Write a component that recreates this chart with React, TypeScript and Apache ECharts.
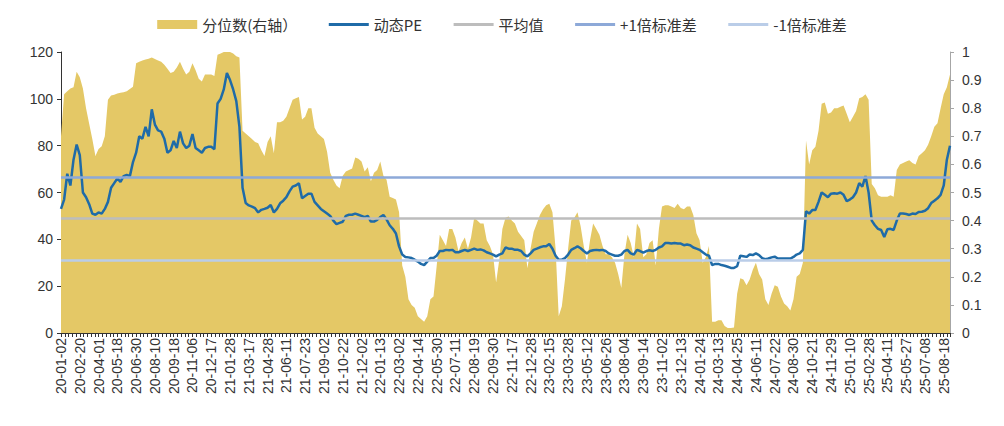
import React, { useEffect, useRef } from "react";
import * as echarts from "echarts";

// Tick labels on the date axis (one every 30 trading days)
const tickLabels = [
  "20-01-02", "20-02-20", "20-04-01", "20-05-18", "20-06-30", "20-08-10", "20-09-18", "20-11-06",
  "20-12-17", "21-01-28", "21-03-17", "21-04-28", "21-06-11", "21-07-23", "21-09-02", "21-10-22",
  "21-12-02", "22-01-13", "22-03-02", "22-04-14", "22-05-30", "22-07-11", "22-08-19", "22-09-30",
  "22-11-17", "22-12-28", "23-02-15", "23-03-28", "23-05-12", "23-06-26", "23-08-04", "23-09-14",
  "23-11-02", "23-12-13", "24-01-24", "24-03-13", "24-04-25", "24-06-11", "24-07-22", "24-08-30",
  "24-10-21", "24-11-29", "25-01-10", "25-02-28", "25-04-11", "25-05-27", "25-07-08", "25-08-18",
];
const POINTS_PER_LABEL = 6; // one point every 5 trading days

// 动态PE (left axis)
const pe = [
  53, 57, 68, 63, 74, 80.5, 76, 60, 58, 55,
  51, 50.5, 51.5, 51, 53, 56, 62, 64, 66, 64.5,
  67, 67.5, 67, 73, 77, 84, 83, 88, 84, 95.5,
  89, 86.5, 86, 83, 77, 78, 82, 79, 86, 81,
  79, 80, 85, 79, 78, 77, 79, 79.5, 79.5, 78.5,
  98, 100, 104, 111, 108, 104, 99, 88, 62, 55.5,
  54.5, 54, 53.3, 51.5, 52.6, 53, 53.5, 54.7, 51.5, 53,
  55.4, 56.5, 58, 60.5, 62.5, 63, 64, 57.5, 58.5, 59.5,
  59.5, 56, 54.5, 53, 52, 51, 50, 48, 46.5, 47,
  47.5, 50, 50.5, 50.5, 51, 50.5, 50, 49.5, 50, 47.6,
  47.6, 48.3, 49.5, 50.4, 48.5, 46, 44.5, 42.5, 37, 33.5,
  32.5, 32.3, 32, 31.3, 30.5, 29.5, 29, 30.5, 32, 32,
  33, 35, 35, 35.5, 35.3, 35.5, 34.5, 34.5, 35, 35.5,
  35, 35.5, 36, 35.5, 35.7, 35.3, 34.5, 34, 33.5, 32.7,
  33.5, 34, 36.5, 36, 36, 35.5, 35.5, 35, 33.5, 32.7,
  34, 35.5, 36, 36.6, 37, 37, 38, 36, 33, 31.3,
  31.3, 32, 33.5, 35.5, 36.2, 37, 36.2, 35, 34, 35,
  35.3, 35.5, 35.3, 35.5, 35, 34, 33.5, 33, 33, 33.5,
  35, 35.5, 34, 33.5, 35.5, 35, 34.3, 35, 35.3, 35,
  35.5, 36.5, 37, 38.4, 38.4, 38.2, 38.4, 38.2, 38.2, 37.5,
  37.8, 37.5, 36.5, 36, 35.5, 34.5, 33.5, 33, 29, 29.5,
  29.5, 29, 28.7, 28.3, 27.8, 27.8, 28.5, 33, 32.8, 32.5,
  33.5, 33.3, 34, 33.3, 32, 31.5, 31.8, 32.3, 32.6, 31.8,
  31.8, 31.8, 31.8, 31.8, 32.5, 33.5, 34, 35.5, 52, 51,
  52.5, 52.5, 56, 60, 59, 58, 59.5, 59.7, 59.5, 60,
  59, 56.3, 57, 58, 60, 64, 62.5, 67, 60, 48,
  46, 44.5, 44, 41, 44.3, 44.5, 44, 48, 51, 51,
  50.8, 50.4, 51, 50.8, 51.7, 51.8, 52.2, 53.3, 55.5, 56.5,
  57.5, 59, 63, 74, 80,
];

// 分位数 (right axis)
const percentile = [
  0.70, 0.85, 0.86, 0.87, 0.875, 0.93, 0.91, 0.87, 0.80, 0.745,
  0.69, 0.63, 0.655, 0.665, 0.70, 0.83, 0.845, 0.848, 0.852, 0.855,
  0.857, 0.86, 0.868, 0.876, 0.96, 0.965, 0.97, 0.973, 0.976, 0.98,
  0.975, 0.97, 0.965, 0.955, 0.94, 0.925, 0.93, 0.945, 0.965, 0.94,
  0.92, 0.93, 0.96, 0.935, 0.905, 0.895, 0.92, 0.92, 0.92, 0.915,
  0.99, 0.995, 1.0, 1.0, 1.0, 0.995, 0.985, 0.98, 0.72, 0.71,
  0.70, 0.69, 0.68, 0.675, 0.65, 0.63, 0.68, 0.70, 0.64, 0.75,
  0.75, 0.755, 0.77, 0.80, 0.83, 0.835, 0.84, 0.76, 0.77, 0.80,
  0.80, 0.73, 0.71, 0.70, 0.69, 0.645, 0.57, 0.545, 0.525, 0.515,
  0.56, 0.575, 0.58, 0.585, 0.625, 0.62, 0.61, 0.575, 0.59, 0.54,
  0.57, 0.58, 0.61, 0.56, 0.545, 0.485, 0.48, 0.475, 0.43, 0.24,
  0.20, 0.12, 0.10, 0.09, 0.06, 0.05, 0.04, 0.06, 0.12, 0.13,
  0.237, 0.35, 0.33, 0.31, 0.37, 0.37, 0.34, 0.29, 0.32, 0.34,
  0.30, 0.34, 0.41, 0.40, 0.39, 0.39, 0.33, 0.31, 0.28, 0.18,
  0.26, 0.37, 0.41, 0.415, 0.40, 0.39, 0.36, 0.345, 0.33, 0.23,
  0.30, 0.36, 0.39, 0.42, 0.44, 0.455, 0.46, 0.43, 0.30, 0.06,
  0.095, 0.19, 0.30, 0.40, 0.41, 0.43, 0.38, 0.31, 0.25, 0.33,
  0.39, 0.37, 0.35, 0.31, 0.28, 0.28, 0.27, 0.25, 0.21, 0.16,
  0.28, 0.35, 0.32, 0.27, 0.39, 0.37, 0.27, 0.28, 0.32, 0.33,
  0.24, 0.37, 0.45, 0.455, 0.455, 0.45, 0.445, 0.46, 0.445, 0.44,
  0.45, 0.45, 0.42, 0.355, 0.33, 0.25, 0.27, 0.31, 0.04, 0.04,
  0.045, 0.045, 0.025, 0.018, 0.018, 0.02, 0.14, 0.195, 0.19, 0.17,
  0.19, 0.225, 0.25, 0.21, 0.19, 0.12, 0.10, 0.14, 0.17, 0.165,
  0.13, 0.105, 0.095, 0.08, 0.12, 0.2, 0.21, 0.25, 0.685, 0.6,
  0.65, 0.663, 0.72, 0.816, 0.82, 0.78, 0.785, 0.80, 0.80, 0.805,
  0.81, 0.78, 0.75, 0.77, 0.79, 0.835, 0.84, 0.85, 0.83, 0.53,
  0.515, 0.49, 0.485, 0.485, 0.485, 0.49, 0.485, 0.58, 0.60, 0.605,
  0.61, 0.615, 0.605, 0.60, 0.63, 0.64, 0.65, 0.67, 0.70, 0.734,
  0.746, 0.80, 0.85, 0.875, 0.92,
];

// Reference levels of PE
const meanPE = 48.9;
const plus1Std = 66.7;
const minus1Std = 31.1;

const seriesNames = ["分位数(右轴）", "动态PE", "平均值", "+1倍标准差", "-1倍标准差"];

const categories = pe.map((_, i) => {
  const k = Math.floor(i / POINTS_PER_LABEL);
  const r = i % POINTS_PER_LABEL;
  const base = tickLabels[Math.min(k, tickLabels.length - 1)];
  return r === 0 && k < tickLabels.length ? base : `${base}#${r}`;
});

const GOLD = "#E4C866";
const BLUE = "#1F6BA8";
const GREY = "#BDBDBD";
const MID_BLUE = "#8DA9D8";
const LIGHT_BLUE = "#BACDE8";
const FONT = "'Liberation Sans', Arial, 'Noto Sans CJK SC', sans-serif";

function refLine(name: string, value: number, color: string) {
  return {
    name,
    type: "line",
    yAxisIndex: 0,
    data: [],
    symbol: "none",
    color,
    lineStyle: { color, width: 2.5 },
    z: 3,
    markLine: {
      silent: true,
      symbol: "none",
      label: { show: false },
      lineStyle: { color, width: 2.5, type: "solid" },
      data: [{ yAxis: value }],
    },
  };
}

const lineLegend = (name: string) => ({ name, itemStyle: { opacity: 0 }, lineStyle: { width: 3 } });

export default function App() {
  const ref = useRef<HTMLDivElement>(null);
  useEffect(() => {
    document.body.style.margin = "0";
    if (!ref.current) return;
    const chart = echarts.init(ref.current, undefined, { renderer: "svg" });
    const lastIndex = pe.length - 1;
    chart.setOption({
      animation: false,
      textStyle: { fontFamily: FONT },
      legend: {
        top: 12,
        left: "center",
        itemWidth: 40,
        itemHeight: 9,
        itemGap: 30,
        textStyle: { fontSize: 15, color: "#333", fontFamily: "'Noto Sans CJK SC', 'Liberation Sans', sans-serif" },
        data: [
          { name: seriesNames[0], icon: "rect" },
          lineLegend(seriesNames[1]),
          lineLegend(seriesNames[2]),
          lineLegend(seriesNames[3]),
          lineLegend(seriesNames[4]),
        ],
      },
      grid: { left: 61, right: 54, top: 52, bottom: 93, containLabel: false },
      xAxis: [
        {
          type: "category",
          data: categories,
          boundaryGap: false,
          axisLine: { show: true, lineStyle: { color: "#333", width: 1 } },
          axisTick: { show: false },
          axisLabel: {
            rotate: 90,
            margin: 5,
            fontSize: 14,
            color: "#333",
            fontFamily: FONT,
            interval: (idx: number) => idx % POINTS_PER_LABEL === 0,
            formatter: (v: string) => v,
          },
          splitLine: { show: false },
          z: 5,
        },
        {
          type: "value",
          position: "bottom",
          min: 0,
          max: lastIndex,
          interval: 1.2,
          axisLine: { show: false },
          axisTick: { show: true, length: 4, lineStyle: { color: "#333" } },
          axisLabel: { show: false },
          splitLine: { show: false },
        },
      ],
      yAxis: [
        {
          type: "value",
          min: 0,
          max: 120,
          interval: 20,
          position: "left",
          axisLine: { show: true, lineStyle: { color: "#333" } },
          axisTick: { show: true, length: 4, lineStyle: { color: "#333" } },
          axisLabel: { fontSize: 14, color: "#333", margin: 8, fontFamily: FONT },
          splitLine: { show: false },
        },
        {
          type: "value",
          min: 0,
          max: 1,
          interval: 0.1,
          position: "right",
          axisLine: { show: true, lineStyle: { color: "#A6A6A6" } },
          axisTick: { show: true, length: 4, lineStyle: { color: "#A6A6A6" } },
          axisLabel: { fontSize: 14, color: "#333", margin: 12, fontFamily: FONT },
          splitLine: { show: false },
        },
      ],
      series: [
        {
          name: seriesNames[0],
          type: "line",
          yAxisIndex: 1,
          data: percentile,
          symbol: "none",
          color: GOLD,
          lineStyle: { width: 0, color: GOLD },
          areaStyle: { color: GOLD, opacity: 1 },
          z: 1,
        },
        refLine(seriesNames[2], meanPE, GREY),
        refLine(seriesNames[3], plus1Std, MID_BLUE),
        refLine(seriesNames[4], minus1Std, LIGHT_BLUE),
        {
          name: seriesNames[1],
          type: "line",
          yAxisIndex: 0,
          data: pe,
          symbol: "none",
          color: BLUE,
          lineStyle: { width: 2.5, color: BLUE },
          z: 4,
        },
      ],
    });
    return () => chart.dispose();
  }, []);
  return <div ref={ref} style={{ width: 1004, height: 426 }} />;
}
